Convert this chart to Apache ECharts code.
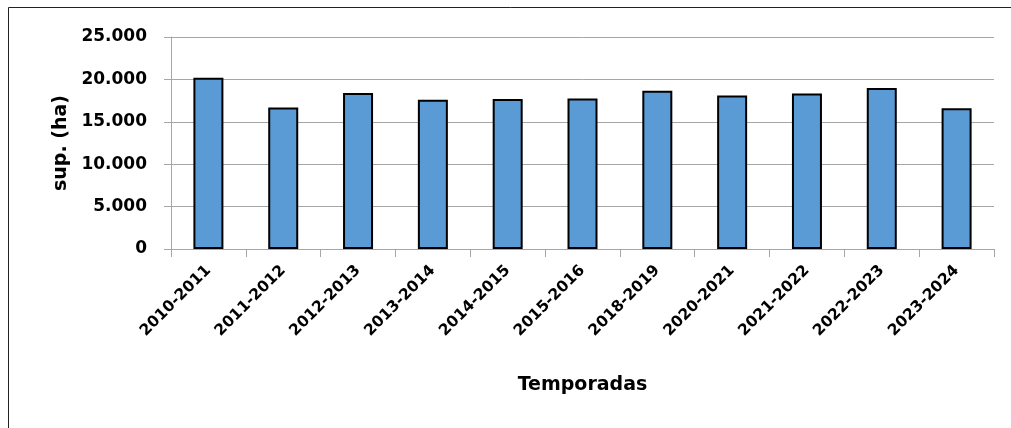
<!DOCTYPE html>
<html>
<head>
<meta charset="utf-8">
<script src="https://cdn.jsdelivr.net/npm/echarts@6/dist/echarts.min.js"></script>
<style>html,body{margin:0;padding:0;background:#fff}#c{width:1011px;height:428px}</style>
</head>
<body>
<div id="c"></div>
<script>
const categories = ['2010-2011','2011-2012','2012-2013','2013-2014','2014-2015','2015-2016','2018-2019','2020-2021','2021-2022','2022-2023','2023-2024'];
const superficie = [20200, 16700, 18400, 17600, 17700, 17750, 18650, 18100, 18350, 19000, 16600];
const yAxisTitle = 'sup. (ha)';
const xAxisTitle = 'Temporadas';

const FONT = 'DejaVu Sans';
const chart = echarts.init(document.getElementById('c'), null, {renderer: 'canvas'});
chart.setOption({
  animation: false,
  backgroundColor: '#fff',
  graphic: [{
    type: 'polyline',
    shape: {points: [[8.5, 440], [8.5, 7.5], [1020, 7.5]]},
    style: {stroke: '#222', lineWidth: 1, fill: null},
    silent: true
  }],
  grid: {left: 171, right: 17, top: 37, bottom: 179, containLabel: false},
  xAxis: {
    type: 'category',
    data: categories,
    name: xAxisTitle,
    nameLocation: 'middle',
    nameGap: 127,
    nameTextStyle: {fontFamily: FONT, fontWeight: 'bold', fontSize: 19, color: '#000'},
    axisLine: {lineStyle: {color: '#a6a6a6', width: 1}},
    axisTick: {show: true, length: 8, lineStyle: {color: '#a6a6a6'}},
    axisLabel: {rotate: 45, fontFamily: FONT, fontWeight: 'bold', fontSize: 15.5, color: '#000', margin: 19, interval: 0}
  },
  yAxis: {
    type: 'value',
    min: 0, max: 25000, interval: 5000,
    name: yAxisTitle,
    nameLocation: 'middle',
    nameGap: 100,
    nameRotate: 90,
    nameTextStyle: {fontFamily: FONT, fontWeight: 'bold', fontSize: 19, color: '#000'},
    axisLine: {show: true, lineStyle: {color: '#a6a6a6', width: 1}},
    axisTick: {show: true, length: 7, lineStyle: {color: '#a6a6a6'}},
    splitLine: {show: true, lineStyle: {color: '#a6a6a6', width: 1}},
    axisLabel: {
      fontFamily: FONT, fontWeight: 'bold', fontSize: 17, color: '#000', margin: 24,
      formatter: v => v === 0 ? '0' : v.toLocaleString('de-DE')
    }
  },
  series: [{
    type: 'bar',
    data: superficie,
    barWidth: 30,
    itemStyle: {color: '#5b9bd5', borderColor: '#000', borderWidth: 2}
  }]
});
</script>
</body>
</html>
